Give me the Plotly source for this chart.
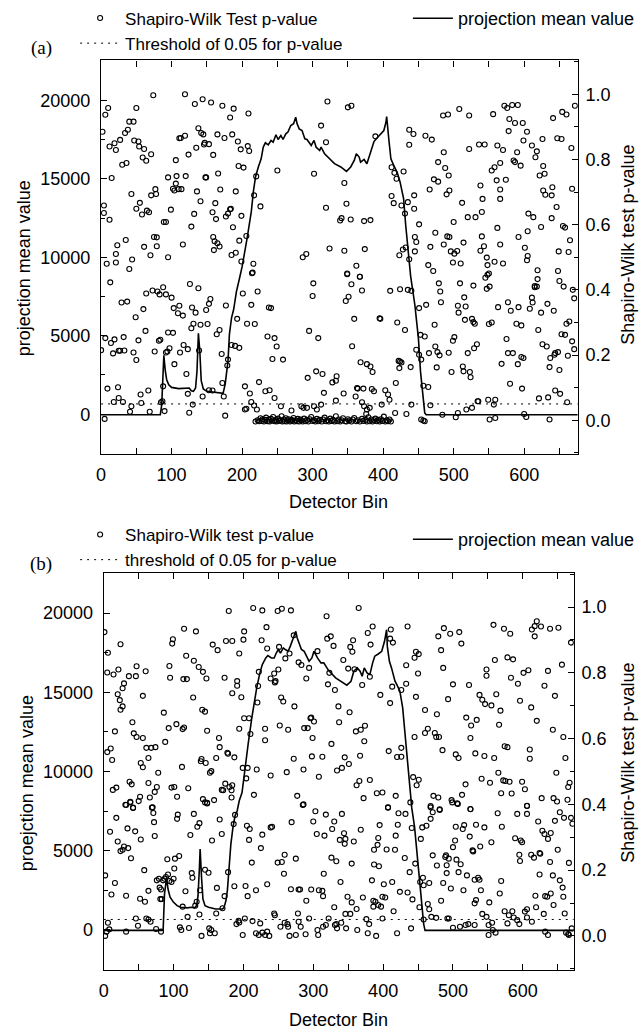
import plotly.graph_objects as go

# ---------------- data: panel (a) ----------------
sw_a_upper_left = [(2,0.885),(6,0.937),(10,0.958),(12,0.840),(15,0.743),(19,0.850),(21,0.829),(27,0.860),(30,0.784),(34,0.881),(36,0.789),(38,0.891),(40,0.916),(46,0.916),(47,0.858),(50,0.958),(53,0.855),(54,0.840),(59,0.806),(61,0.832),(64,0.796),(71,0.816),(4,0.659),(4,0.636),(12,0.615),(43,0.694),(50,0.649),(55,0.667),(58,0.631),(65,0.643),(68,0.638),(71,0.690),(77,0.709),(78,0.694),(74,0.997),(89,0.608),(92,0.608),(95,0.745),(99,0.646),(102,0.710),(104,0.705),(106,0.726),(107,0.749),(110,0.709),(106,0.798),(114,0.709),(111,0.865),(113,0.866),(119,0.873),(119,1.000),(120,0.749),(124,0.815),(128,0.594),(132,0.633),(133,0.970),(135,0.836),(136,0.702),(138,0.896),(142,0.881),(145,0.877),(146,0.846),(147,0.851),(153,0.847),(141,0.672),(144,0.985),(148,0.745),(149,0.745),(156,0.975),(159,0.814),(158,0.638),(162,0.666),(163,0.617),(166,0.757),(165,0.877),(175,0.866),(169,0.708),(172,0.965),(177,0.625),(180,0.634),(183,0.647),(184,0.649),(183,0.929),(188,0.956),(186,0.877),(187,0.592),(191,0.702),(194,0.855),(198,0.831),(195,0.780),(202,0.775),(199,0.627),(209,0.941),(208,0.841),(210,0.826),(206,0.565),(95,0.500),(116,0.539),(61,0.532),(70,0.506),(75,0.562),(79,0.561),(79,0.534),(35,0.553),(23,0.537),(21,0.510),(21,0.484),(8,0.480),(40,0.464),(44,0.493),(159,0.562),(161,0.549),(165,0.543),(168,0.533),(160,0.522),(185,0.507),(191,0.514),(196,0.551),(199,0.487),(216,0.480),(215,0.453),(226,0.656),(217,0.690),(220,0.748),(250,0.766),(286,0.500),(291,0.510),(302,0.756),(312,0.904)]

sw_a_upper_right = [(321,0.978),(319,0.853),(350,0.960),(355,0.965),(345,0.728),(348,0.664),(319,0.652),(339,0.613),(341,0.620),(354,0.616),(373,0.611),(382,0.614),(389,0.871),(324,0.527),(345,0.520),(374,0.525),(362,0.474),(349,0.450),(367,0.440),(412,0.776),(416,0.759),(419,0.741),(429,0.763),(412,0.688),(415,0.666),(426,0.659),(435,0.669),(444,0.690),(431,0.634),(444,0.649),(437,0.891),(443,0.878),(437,0.845),(460,0.873),(469,0.861),(451,0.601),(445,0.562),(447,0.547),(445,0.518),(432,0.530),(423,0.506),(428,0.524),(437,0.494),(464,0.476),(471,0.458),(467,0.532),(474,0.575),(491,0.564),(494,0.562),(486,0.539),(496,0.518),(501,0.511),(505,0.519),(499,0.484),(510,0.481),(514,0.545),(478,0.792),(488,0.774),(493,0.751),(466,0.708),(472,0.739),(478,0.732),(486,0.822),(490,0.693),(494,0.705),(485,0.935),(492,0.938),(508,0.955),(522,0.935),(522,0.832),(536,0.846),(544,0.846),(512,0.667),(520,0.623),(531,0.623),(540,0.639),(541,0.679),(538,0.720),(500,0.608),(540,0.564),(543,0.534),(538,0.520),(547,0.499),(548,0.476),(550,0.450),(558,0.486),(570,0.481),(566,0.539),(562,0.590),(556,0.939),(572,0.965),(576,0.958),(583,0.967),(591,0.967),(579,0.924),(587,0.912),(578,0.887),(598,0.912),(562,0.843),(570,0.829),(554,0.766),(558,0.776),(566,0.789),(561,0.736),(566,0.708),(574,0.738),(566,0.679),(590,0.822),(587,0.792),(595,0.781),(585,0.797),(599,0.858),(604,0.885),(611,0.843),(618,0.825),(616,0.807),(626,0.863),(622,0.751),(629,0.756),(627,0.780),(606,0.634),(613,0.623),(624,0.593),(605,0.580),(592,0.562),(601,0.529),(605,0.504),(604,0.491),(619,0.460),(627,0.705),(630,0.692),(640,0.715),(639,0.690),(646,0.654),(639,0.620),(641,0.927),(647,0.865),(653,0.863),(654,0.946),(660,0.938),(667,0.835),(672,0.965),(655,0.596),(658,0.591),(665,0.552),(649,0.518),(663,0.516),(668,0.710),(648,0.458)]

sw_a_lower_left = [(13,0.423),(0,0.215),(6,0.252),(9,0.097),(5,0.004),(14,0.237),(19,0.248),(17,0.205),(25,0.213),(27,0.213),(33,0.214),(32,0.255),(29,0.361),(37,0.364),(24,0.101),(25,0.068),(18,0.056),(31,0.056),(43,0.043),(41,0.026),(46,0.208),(50,0.185),(49,0.316),(53,0.245),(56,0.079),(57,0.053),(60,0.341),(64,0.389),(73,0.398),(80,0.395),(83,0.386),(88,0.408),(92,0.386),(63,0.274),(67,0.091),(69,0.026),(76,0.211),(82,0.244),(84,0.247),(85,0.055),(87,0.058),(88,0.104),(90,0.028),(95,0.269),(102,0.268),(94,0.211),(97,0.221),(92,0.208),(100,0.376),(103,0.344),(109,0.328),(111,0.351),(116,0.321),(104,0.172),(112,0.208),(117,0.231),(123,0.218),(121,0.142),(123,0.081),(125,0.023),(126,0.418),(129,0.346),(134,0.330),(128,0.282),(131,0.296),(130,0.048),(138,0.405),(139,0.214),(141,0.293),(144,0.073),(149,0.338),(153,0.357),(155,0.372),(151,0.295),(153,0.092),(158,0.091),(164,0.264),(168,0.277),(171,0.203),(172,0.114),(174,0.073),(176,0.014),(177,0.352),(179,0.168),(180,0.186),(185,0.231),(190,0.228),(196,0.222),(193,0.311),(201,0.389),(213,0.354),(222,0.395),(207,0.296),(218,0.295),(214,0.451),(204,0.104),(211,0.082),(224,0.117),(213,0.056),(217,0.045),(221,0.033),(204,0.033),(206,0.035),(233,0.089),(239,0.092),(236,0.257),(238,0.346),(241,0.344),(246,0.252),(249,0.226),(243,0.188),(246,0.068),(258,0.186),(255,0.043),(270,0.030),(284,0.043),(287,0.038),(292,0.038),(293,0.130),(295,0.274),(300,0.381),(301,0.420),(305,0.150),(308,0.252),(302,0.043),(306,0.033)]

sw_a_lower_right = [(349,0.448),(355,0.417),(367,0.440),(370,0.398),(347,0.366),(351,0.379),(359,0.311),(356,0.227),(314,0.142),(316,0.084),(312,0.048),(328,0.116),(333,0.121),(334,0.135),(333,0.060),(344,0.082),(361,0.073),(364,0.097),(372,0.097),(363,0.099),(368,0.178),(377,0.172),(382,0.165),(385,0.148),(370,0.055),(373,0.043),(377,0.033),(381,0.038),(376,0.019),(384,0.096),(387,0.089),(395,0.313),(396,0.311),(398,0.048),(403,0.092),(407,0.079),(409,0.063),(410,0.397),(424,0.402),(435,0.400),(440,0.397),(420,0.300),(431,0.277),(422,0.182),(424,0.180),(423,0.160),(426,0.177),(418,0.114),(417,0.022),(433,0.019),(439,0.163),(440,0.048),(447,0.216),(451,0.201),(454,0.186),(451,0.344),(453,0.262),(459,0.257),(461,0.354),(457,0.106),(464,0.102),(454,0.002),(457,-0.001),(459,-0.003),(467,0.046),(465,0.206),(473,0.293),(474,0.226),(477,0.209),(480,0.199),(476,0.162),(479,0.420),(481,0.395),(482,0.362),(484,0.017),(493,0.207),(497,0.148),(499,0.244),(501,0.255),(503,0.009),(506,0.022),(506,0.351),(507,0.330),(509,0.420),(517,0.349),(516,0.308),(515,0.377),(513,0.165),(514,0.150),(520,0.206),(518,0.033),(526,0.311),(528,0.301),(530,0.296),(523,0.148),(524,0.132),(529,0.221),(533,0.233),(526,0.038),(528,0.413),(535,0.058),(534,0.058),(545,0.437),(548,0.446),(547,0.403),(551,0.410),(550,0.295),(554,0.300),(549,0.063),(557,0.048),(559,0.063),(551,0.002),(559,0.007),(563,0.347),(568,0.173),(575,0.249),(577,0.206),(584,0.206),(577,0.362),(581,0.336),(580,0.112),(589,0.296),(596,0.291),(592,0.347),(591,0.172),(596,0.194),(599,0.191),(597,0.097),(600,0.019),(603,0.010),(608,0.342),(611,0.376),(612,0.361),(615,0.408),(618,0.410),(619,0.433),(615,0.412),(620,0.277),(624,0.330),(626,0.233),(632,0.226),(633,0.357),(642,0.336),(636,0.163),(637,0.191),(643,0.201),(644,0.206),(648,0.209),(650,0.154),(621,0.067),(634,0.070),(636,0.002),(644,0.091),(651,0.081),(650,0.427),(656,0.410),(653,0.264),(658,0.262),(660,0.296),(664,0.303),(662,0.198),(661,0.055),(668,0.242),(671,0.218),(671,0.374),(669,0.400)]

# dense band of near-zero p-values under the object (panel a)
sw_a_zero_band = [(219,-0.004),(222,0.000),(224,-0.003),(226,0.006),(228,-0.002),(229,0.003),(231,-0.004),(233,0.001),(234,0.008),(236,-0.003),(238,0.002),(239,-0.004),(241,0.004),(243,-0.001),(244,0.010),(246,-0.003),(248,0.001),(249,-0.004),(251,0.005),(252,-0.002),(254,0.000),(256,0.012),(257,-0.004),(259,0.002),(260,-0.003),(262,0.006),(263,-0.004),(265,-0.001),(266,0.003),(268,-0.004),(270,0.001),(271,-0.002),(273,0.007),(274,-0.004),(276,0.000),(278,-0.003),(279,0.004),(281,-0.004),(283,0.002),(284,-0.001),(286,-0.004),(288,0.005),(290,-0.003),(292,0.001),(294,-0.004),(296,0.003),(298,0.010),(300,-0.002),(302,0.000),(304,-0.004),(306,0.004),(308,-0.003),(310,0.001),(313,-0.004),(315,0.002),(317,0.008),(319,-0.003),(321,0.000),(323,-0.004),(325,0.005),(327,-0.002),(329,0.001),(331,-0.004),(333,0.012),(335,-0.003),(337,0.002),(339,-0.004),(341,0.000),(343,0.006),(346,-0.003),(348,-0.004),(350,0.003),(352,-0.001),(355,-0.004),(357,0.002),(359,0.007),(362,-0.003),(364,0.000),(367,-0.004),(370,0.004),(372,-0.002),(375,0.001),(377,-0.004),(379,0.009),(381,-0.003),(383,0.002),(385,-0.004),(387,0.000),(389,0.005),(391,-0.003),(393,0.001),(395,-0.004),(397,0.003),(399,-0.002),(401,0.011),(403,-0.004),(405,0.000),(407,-0.003),(409,0.002),(411,-0.004)]

proj_a_bin = [0, 84, 86, 88, 89, 91, 93, 96, 100, 110, 120, 125, 128, 131, 134, 136, 138, 140, 142, 145, 150, 160, 170, 173, 176, 178, 180, 182, 185, 188, 192, 196, 200, 207, 213, 216, 219, 223, 227, 230, 233, 237, 241, 244, 248, 251, 255, 258, 262, 265, 269, 273, 276, 278, 281, 285, 289, 292, 296, 298, 302, 305, 310, 312, 317, 324, 331, 340, 348, 354, 359, 362, 366, 368, 373, 377, 382, 387, 391, 396, 401, 404, 405, 408, 411, 415, 417, 420, 424, 429, 432, 436, 439, 445, 450, 453, 457, 459, 461, 676]
proj_a_val = [-30, -30, 600, 2700, 3750, 2800, 2200, 1880, 1710, 1630, 1630, 1670, 1500, 1460, 1670, 2730, 5160, 4030, 2140, 1610, 1460, 1400, 1360, 1330, 1920, 2560, 3400, 5090, 6140, 6670, 7830, 8600, 9400, 11190, 12890, 14190, 15110, 15750, 16270, 17020, 17290, 17160, 17440, 17330, 17800, 17500, 17760, 17500, 17860, 17970, 18390, 18500, 18920, 18500, 18180, 18070, 17540, 17500, 17290, 17120, 17440, 17010, 16800, 17020, 16590, 16270, 15960, 15750, 15470, 15750, 16170, 16590, 16380, 16060, 16230, 15960, 16700, 17370, 17580, 17800, 18070, 18600, 18960, 17540, 16270, 15850, 15640, 15390, 14800, 13740, 12040, 10350, 8800, 6960, 4850, 2730, 1040, 85, -30, -30]

# ---------------- data: panel (b) ----------------
sw_b_upper_left = [(1,0.924),(6,0.861),(5,0.801),(14,0.795),(21,0.810),(24,0.887),(20,0.735),(23,0.717),(24,0.688),(27,0.698),(29,0.768),(27,0.753),(36,0.790),(46,0.790),(47,0.820),(60,0.805),(16,0.622),(5,0.559),(10,0.570),(12,0.535),(41,0.650),(43,0.616),(47,0.605),(56,0.602),(56,0.730),(61,0.572),(68,0.572),(64,0.541),(53,0.526),(56,0.513),(13,0.444),(18,0.451),(37,0.469),(40,0.461),(32,0.398),(38,0.408),(42,0.390),(50,0.410),(52,0.423),(64,0.465),(66,0.421),(69,0.390),(73,0.438),(76,0.453),(78,0.496),(74,0.574),(86,0.679),(88,0.590),(93,0.632),(94,0.821),(95,0.785),(99,0.902),(98,0.889),(97,0.451),(101,0.453),(105,0.423),(104,0.644),(112,0.514),(113,0.629),(115,0.634),(114,0.781),(119,0.781),(118,0.852),(115,0.934),(121,0.449),(128,0.725),(129,0.837),(136,0.818),(132,0.926),(139,0.531),(140,0.538),(146,0.526),(148,0.624),(142,0.803),(147,0.783),(141,0.688),(145,0.682),(142,0.416),(148,0.405),(158,0.413),(152,0.496),(154,0.501),(156,0.886),(163,0.869),(161,0.541),(165,0.602),(166,0.574),(173,0.785),(175,0.897),(184,0.897),(177,0.557),(178,0.554),(171,0.443),(169,0.444),(174,0.463),(183,0.421),(183,0.443),(180,0.453),(184,0.458),(184,0.738),(191,0.775),(191,0.761),(197,0.726),(194,0.859),(179,0.988),(201,0.926),(200,0.901),(187,0.543),(194,0.630),(199,0.511),(206,0.511),(201,0.662),(208,0.662),(204,0.479),(210,0.614),(215,0.429),(219,0.506),(214,0.997),(227,0.990),(233,0.939),(226,0.899),(220,0.710),(221,0.760),(222,0.803),(231,0.630),(231,0.595),(234,0.874),(239,0.783),(244,0.798),(245,0.771),(246,0.775),(250,0.810),(251,0.879),(249,0.988),(255,0.995),(268,0.990),(239,0.488),(252,0.640),(254,0.725),(257,0.713),(264,0.627),(262,0.498),(260,0.844),(266,0.859),(272,0.539),(273,0.698),(272,0.914),(277,0.426),(279,0.832),(283,0.824),(286,0.400),(286,0.506),(287,0.632),(292,0.632),(290,0.783),(294,0.815),(296,0.662),(299,0.602),(297,0.664),(301,0.652),(298,0.546),(306,0.866),(308,0.484)]

sw_b_upper_right = [(319,0.972),(320,0.904),(325,0.911),(329,0.882),(323,0.800),(321,0.765),(331,0.748),(336,0.698),(337,0.650),(352,0.680),(326,0.584),(313,0.545),(341,0.511),(345,0.543),(351,0.523),(334,0.503),(343,0.839),(350,0.813),(353,0.879),(357,0.899),(356,0.864),(359,0.811),(365,0.997),(361,0.622),(368,0.627),(374,0.639),(373,0.592),(367,0.548),(362,0.458),(366,0.471),(381,0.474),(372,0.419),(391,0.434),(399,0.436),(378,0.921),(385,0.941),(382,0.886),(370,0.763),(381,0.788),(396,0.733),(410,0.708),(411,0.932),(410,0.904),(414,0.892),(413,0.758),(426,0.748),(408,0.562),(426,0.572),(426,0.545),(420,0.544),(418,0.426),(407,0.390),(433,0.823),(435,0.941),(433,0.767),(445,0.605),(443,0.483),(451,0.475),(448,0.458),(445,0.846),(447,0.864),(451,0.857),(450,0.798),(447,0.727),(460,0.687),(460,0.617),(464,0.630),(474,0.617),(476,0.605),(480,0.605),(477,0.674),(479,0.911),(483,0.869),(486,0.815),(485,0.565),(487,0.936),(496,0.919),(500,0.765),(493,0.720),(509,0.924),(512,0.889),(523,0.763),(472,0.426),(479,0.421),(468,0.395),(481,0.385),(498,0.413),(506,0.403),(513,0.429),(525,0.385),(504,0.552),(508,0.541),(518,0.461),(519,0.664),(526,0.640),(534,0.657),(525,0.602),(532,0.555),(545,0.547),(538,0.733),(542,0.718),(546,0.705),(555,0.701),(548,0.810),(548,0.791),(541,0.478),(553,0.466),(559,0.541),(558,0.946),(573,0.934),(582,0.919),(560,0.839),(562,0.735),(568,0.685),(566,0.642),(565,0.496),(572,0.473),(574,0.577),(578,0.574),(569,0.434),(575,0.471),(581,0.469),(584,0.433),(578,0.847),(586,0.841),(583,0.785),(593,0.767),(596,0.715),(599,0.469),(603,0.446),(606,0.395),(601,0.800),(608,0.808),(612,0.695),(620,0.654),(610,0.567),(610,0.539),(613,0.932),(617,0.942),(620,0.957),(617,0.911),(626,0.941),(639,0.934),(651,0.937),(636,0.806),(631,0.761),(627,0.419),(643,0.627),(646,0.730),(656,0.825),(644,0.419),(649,0.409),(648,0.496),(658,0.605),(661,0.541),(664,0.414),(665,0.453),(667,0.466),(669,0.892)]

sw_b_lower_left = [(2,0.184),(2,0.000),(4,0.013),(9,0.317),(11,0.126),(16,0.161),(6,0.040),(8,0.020),(18,0.359),(20,0.287),(24,0.258),(27,0.262),(29,0.272),(35,0.267),(31,0.399),(38,0.406),(42,0.389),(39,0.236),(32,0.122),(32,0.013),(34,0.327),(45,0.318),(53,0.293),(46,0.053),(49,0.031),(52,0.113),(59,0.104),(58,0.200),(61,0.053),(64,0.050),(67,0.043),(64,0.137),(70,0.391),(71,0.374),(72,0.346),(73,0.304),(75,0.021),(82,0.013),(76,0.169),(79,0.174),(80,0.147),(82,0.141),(85,0.169),(81,0.112),(83,0.112),(87,0.174),(89,0.179),(92,0.187),(94,0.167),(91,0.233),(97,0.164),(100,0.174),(101,0.205),(102,0.235),(106,0.369),(105,0.356),(108,0.243),(109,0.026),(111,0.018),(113,0.089),(117,0.136),(120,0.058),(122,0.024),(124,0.307),(126,0.191),(129,0.371),(127,0.177),(131,0.092),(133,0.104),(134,0.332),(137,0.343),(137,0.065),(138,0.139),(140,0.000),(145,0.201),(150,0.192),(145,0.406),(148,0.403),(151,0.023),(154,0.018),(152,0.008),(159,0.008),(155,0.290),(161,0.068),(162,0.146),(166,0.354),(169,0.310),(170,0.084),(173,0.121),(178,0.194),(186,0.340),(188,0.368),(187,0.151),(190,0.036),(193,0.046),(194,0.041),(199,0.003),(202,0.053),(203,0.152),(205,0.335),(209,0.325),(208,0.292),(206,0.121),(212,0.223),(213,0.045),(218,0.139),(218,0.008),(222,0.003),(224,0.038),(225,0.267),(227,0.308),(227,0.010),(231,0.003),(234,0.013),(237,0.000),(234,0.157),(239,0.330),(241,0.332),(244,0.068),(245,0.063),(249,0.223),(255,0.225),(259,0.247),(258,0.189),(253,0.028),(259,0.040),(263,0.036),(264,0.028),(266,0.000),(275,0.003),(269,0.346),(268,0.142),(275,0.235),(278,0.068),(279,0.043),(282,0.028),(279,0.141),(281,0.141),(285,0.398),(289,0.005),(290,0.107),(294,0.053),(297,0.141),(300,0.348),(303,0.379),(305,0.310),(306,0.018),(307,0.003),(308,0.139)]

sw_b_lower_right = [(318,0.369),(341,0.371),(330,0.348),(316,0.305),(327,0.325),(326,0.238),(333,0.227),(338,0.292),(344,0.312),(346,0.295),(345,0.280),(358,0.287),(355,0.220),(368,0.323),(315,0.189),(313,0.137),(314,0.121),(339,0.164),(330,0.087),(322,0.053),(318,0.033),(314,0.028),(331,0.033),(334,0.023),(333,0.036),(340,0.040),(347,0.023),(346,0.067),(353,0.067),(349,0.119),(355,0.102),(362,0.082),(371,0.117),(363,0.018),(376,0.051),(380,0.036),(378,0.008),(390,0.000),(384,0.169),(387,0.217),(394,0.212),(387,0.262),(392,0.277),(393,0.298),(395,0.337),(386,0.089),(389,0.104),(393,0.094),(397,0.089),(386,0.107),(399,0.053),(399,0.119),(403,0.117),(401,0.157),(405,0.263),(417,0.262),(418,0.305),(421,0.338),(407,0.391),(422,0.373),(432,0.371),(413,0.164),(424,0.134),(435,0.132),(415,0.075),(420,0.008),(431,0.237),(438,0.194),(442,0.111),(440,0.023),(439,0.406),(441,0.328),(454,0.295),(446,0.220),(452,0.087),(453,0.164),(457,0.177),(458,0.154),(466,0.161),(458,0.050),(456,0.330),(462,0.335),(468,0.391),(471,0.376),(468,0.356),(471,0.245),(477,0.214),(464,0.097),(466,0.081),(469,0.058),(476,0.055),(481,0.383),(483,0.107),(486,0.161),(490,0.245),(489,0.240),(494,0.235),(491,0.191),(491,0.215),(492,0.053),(494,0.053),(497,0.144),(499,0.406),(507,0.401),(500,0.025),(510,0.028),(504,0.332),(503,0.290),(500,0.270),(505,0.232),(508,0.194),(511,0.218),(515,0.139),(520,0.184),(516,0.337),(514,0.325),(518,0.033),(522,0.036),(531,0.033),(524,0.302),(525,0.386),(528,0.260),(529,0.257),(531,0.171),(536,0.177),(538,0.171),(531,0.099),(533,0.109),(540,0.139),(539,0.272),(533,0.338),(545,0.330),(542,0.067),(548,0.058),(551,0.033),(556,0.040),(551,0.003),(561,0.010),(552,0.102),(555,0.285),(557,0.018),(564,0.373),(567,0.129),(569,0.167),(570,0.332),(574,0.075),(580,0.063),(585,0.075),(578,0.038),(587,0.056),(592,0.048),(595,0.036),(589,0.297),(597,0.290),(599,0.285),(592,0.371),(606,0.371),(606,0.396),(595,0.247),(596,0.228),(603,0.074),(606,0.081),(612,0.247),(616,0.238),(624,0.252),(625,0.250),(606,0.056),(613,0.043),(618,0.122),(619,0.087),(622,0.348),(628,0.320),(631,0.310),(636,0.295),(640,0.313),(624,0.187),(630,0.067),(632,0.121),(635,0.119),(640,0.129),(632,0.013),(636,0.003),(639,0.225),(643,0.184),(644,0.094),(646,0.350),(650,0.262),(653,0.376),(659,0.359),(669,0.359),(671,0.341),(653,0.169),(657,0.147),(658,0.119),(666,0.222),(660,0.068),(662,0.010),(665,0.006),(670,0.023),(666,0.003)]

proj_b_bin = [0, 85, 87, 90, 92, 95, 100, 105, 110, 120, 125, 130, 133, 135, 137, 138, 140, 142, 145, 150, 160, 170, 172, 175, 177, 179, 182, 185, 188, 191, 194, 198, 202, 207, 212, 215, 219, 223, 227, 232, 235, 240, 244, 247, 250, 253, 257, 260, 264, 267, 271, 275, 277, 280, 283, 287, 291, 294, 298, 301, 306, 311, 315, 322, 332, 339, 348, 354, 358, 363, 367, 370, 373, 377, 381, 385, 388, 393, 398, 402, 405, 406, 409, 412, 417, 420, 424, 428, 431, 434, 438, 441, 445, 448, 451, 453, 456, 458, 460, 673]
proj_b_val = [-30, -30, 2270, 3300, 2580, 2060, 1740, 1530, 1430, 1390, 1430, 1390, 1530, 2160, 3950, 5100, 3320, 1950, 1530, 1430, 1320, 1320, 1390, 1850, 2480, 3740, 5420, 6470, 7200, 7510, 8150, 8670, 10240, 11820, 13390, 14230, 15280, 16120, 16750, 17170, 17320, 17170, 17170, 17480, 17700, 17480, 17800, 17700, 17590, 17900, 18320, 18850, 18430, 18010, 17700, 17590, 17280, 16960, 17170, 17590, 17170, 16860, 16860, 16370, 15910, 15700, 15450, 15700, 16330, 16540, 16330, 16010, 16540, 16230, 16120, 16860, 17280, 17420, 17590, 18220, 18950, 17900, 16960, 16540, 15700, 15450, 15070, 14020, 12550, 10870, 8770, 7700, 6500, 5000, 3800, 2700, 1200, 380, -30, -30]

threshold = 0.05
x_max_a = 676
x_max_b = 673
left_range = [-2540, 22540]
right_range = [-0.104, 1.104]

# ---------------- figure ----------------
W, H = 640, 1030
FONT = "Liberation Sans, Arial, Helvetica, sans-serif"
SERIF = "Liberation Serif, Times New Roman, serif"
FS = 18

def px(x):
    return x / W

def py(y):
    return 1 - y / H

def unzip(*groups):
    xs, ys = [], []
    for g in groups:
        for b, p in g:
            xs.append(b)
            ys.append(p)
    return xs, ys

a_x, a_y = unzip(sw_a_upper_left, sw_a_upper_right, sw_a_lower_left, sw_a_lower_right, sw_a_zero_band)
b_x, b_y = unzip(sw_b_upper_left, sw_b_upper_right, sw_b_lower_left, sw_b_lower_right)

marker = dict(symbol="circle-open", size=5, color="black", line=dict(width=1.1, color="black"))
dot = dict(color="black", width=1, dash="2px,5px")
solid = dict(color="black", width=1.6)

fig = go.Figure()
# panel (a)
fig.add_trace(go.Scatter(x=a_x, y=a_y, mode="markers", marker=marker, name="Shapiro-Wilk Test p-value",
                         xaxis="x", yaxis="y2", legend="legend"))
fig.add_trace(go.Scatter(x=[0, x_max_a], y=[threshold, threshold], mode="lines", line=dot,
                         name="Threshold of 0.05 for p-value", xaxis="x", yaxis="y2", legend="legend"))
fig.add_trace(go.Scatter(x=proj_a_bin, y=proj_a_val, mode="lines", line=solid, name="projection mean value",
                         xaxis="x", yaxis="y", legend="legend2"))
# panel (b)
fig.add_trace(go.Scatter(x=b_x, y=b_y, mode="markers", marker=marker, name="Shapiro-Wilk test p-value",
                         xaxis="x2", yaxis="y4", legend="legend3"))
fig.add_trace(go.Scatter(x=[0, x_max_b], y=[threshold, threshold], mode="lines", line=dot,
                         name="threshold of 0.05 for p-value", xaxis="x2", yaxis="y4", legend="legend3"))
fig.add_trace(go.Scatter(x=proj_b_bin, y=proj_b_val, mode="lines", line=solid, name="projection mean value",
                         xaxis="x2", yaxis="y3", legend="legend4"))

tickfont = dict(family=FONT, size=FS, color="black")
common = dict(showgrid=False, zeroline=False, showline=True, linecolor="black", linewidth=1.3,
              ticks="inside", ticklen=6, tickwidth=1.2, tickcolor="black", tickfont=tickfont)

def xax(domain, xmax, anchor):
    return dict(domain=domain, range=[0, xmax], anchor=anchor, tick0=0, dtick=100, mirror="allticks",
                minor=dict(ticks="inside", ticklen=4, tickwidth=1.2, tickcolor="black", dtick=50, tick0=0, showgrid=False),
                ticklabelstandoff=4, **common)

def yleft(domain, anchor):
    return dict(domain=domain, range=left_range, anchor=anchor, tick0=0, dtick=5000, side="left",
                tickformat="d", exponentformat="none",
                minor=dict(ticks="inside", ticklen=4, tickwidth=1.2, tickcolor="black", dtick=2500, tick0=0, showgrid=False),
                ticklabelstandoff=6, **common)

def yright(domain, anchor, overlay):
    return dict(domain=domain, range=right_range, anchor=anchor, overlaying=overlay, side="right", tick0=0,
                dtick=0.2, tickformat=".1f",
                minor=dict(ticks="inside", ticklen=4, tickwidth=1.2, tickcolor="black", dtick=0.1, tick0=0, showgrid=False),
                ticklabelstandoff=3, **common)

dom_xa = [px(97.3), px(580)]
dom_ya = [py(453), py(58.5)]
dom_xb = [px(100), px(576)]
dom_yb = [py(970), py(572)]

legend_font = dict(family=FONT, size=17, color="black")
leg_common = dict(font=legend_font, bgcolor="rgba(0,0,0,0)", borderwidth=0, xanchor="left", yanchor="top",
                  itemwidth=40, tracegroupgap=0)
leg_right = dict(leg_common, font=dict(family=FONT, size=18, color="black"))

fig.update_layout(
    width=W, height=H, margin=dict(l=0, r=0, t=0, b=0),
    paper_bgcolor="white", plot_bgcolor="white",
    font=dict(family=FONT, size=FS, color="black"),
    xaxis=xax(dom_xa, x_max_a, "y"),
    yaxis=yleft(dom_ya, "x"),
    yaxis2=yright(dom_ya, "x", "y"),
    xaxis2=xax(dom_xb, x_max_b, "y3"),
    yaxis3=yleft(dom_yb, "x2"),
    yaxis4=yright(dom_yb, "x2", "y3"),
    legend=dict(x=px(71), y=py(-1.5), **leg_common),
    legend2=dict(x=px(408), y=py(-2), **leg_right),
    legend3=dict(x=px(71), y=py(516), **leg_common),
    legend4=dict(x=px(408), y=py(520), **leg_right),
    showlegend=True,
)

ann_font = dict(family=FONT, size=FS, color="black")
annotations = [
    dict(text="(a)", x=px(36.5), y=py(46), font=dict(family=SERIF, size=19, color="black")),
    dict(text="(b)", x=px(36), y=py(563), font=dict(family=SERIF, size=19, color="black")),
    dict(text="projection mean value", x=px(20), y=py(267), textangle=-90, font=ann_font),
    dict(text="Shapiro-Wilk test p-value", x=px(630), y=py(243), textangle=-90, font=ann_font),
    dict(text="Detector Bin", x=px(338), y=py(501), font=ann_font),
    dict(text="proejction mean value", x=px(23), y=py(783), textangle=-90, font=ann_font),
    dict(text="Shapiro-Wilk test p-value", x=px(630), y=py(762), textangle=-90, font=ann_font),
    dict(text="Detector Bin", x=px(338), y=py(1020), font=ann_font),
]
for a in annotations:
    a.update(xref="paper", yref="paper", showarrow=False, xanchor="center", yanchor="middle")
fig.update_layout(annotations=annotations)

fig.write_html("out.html")
